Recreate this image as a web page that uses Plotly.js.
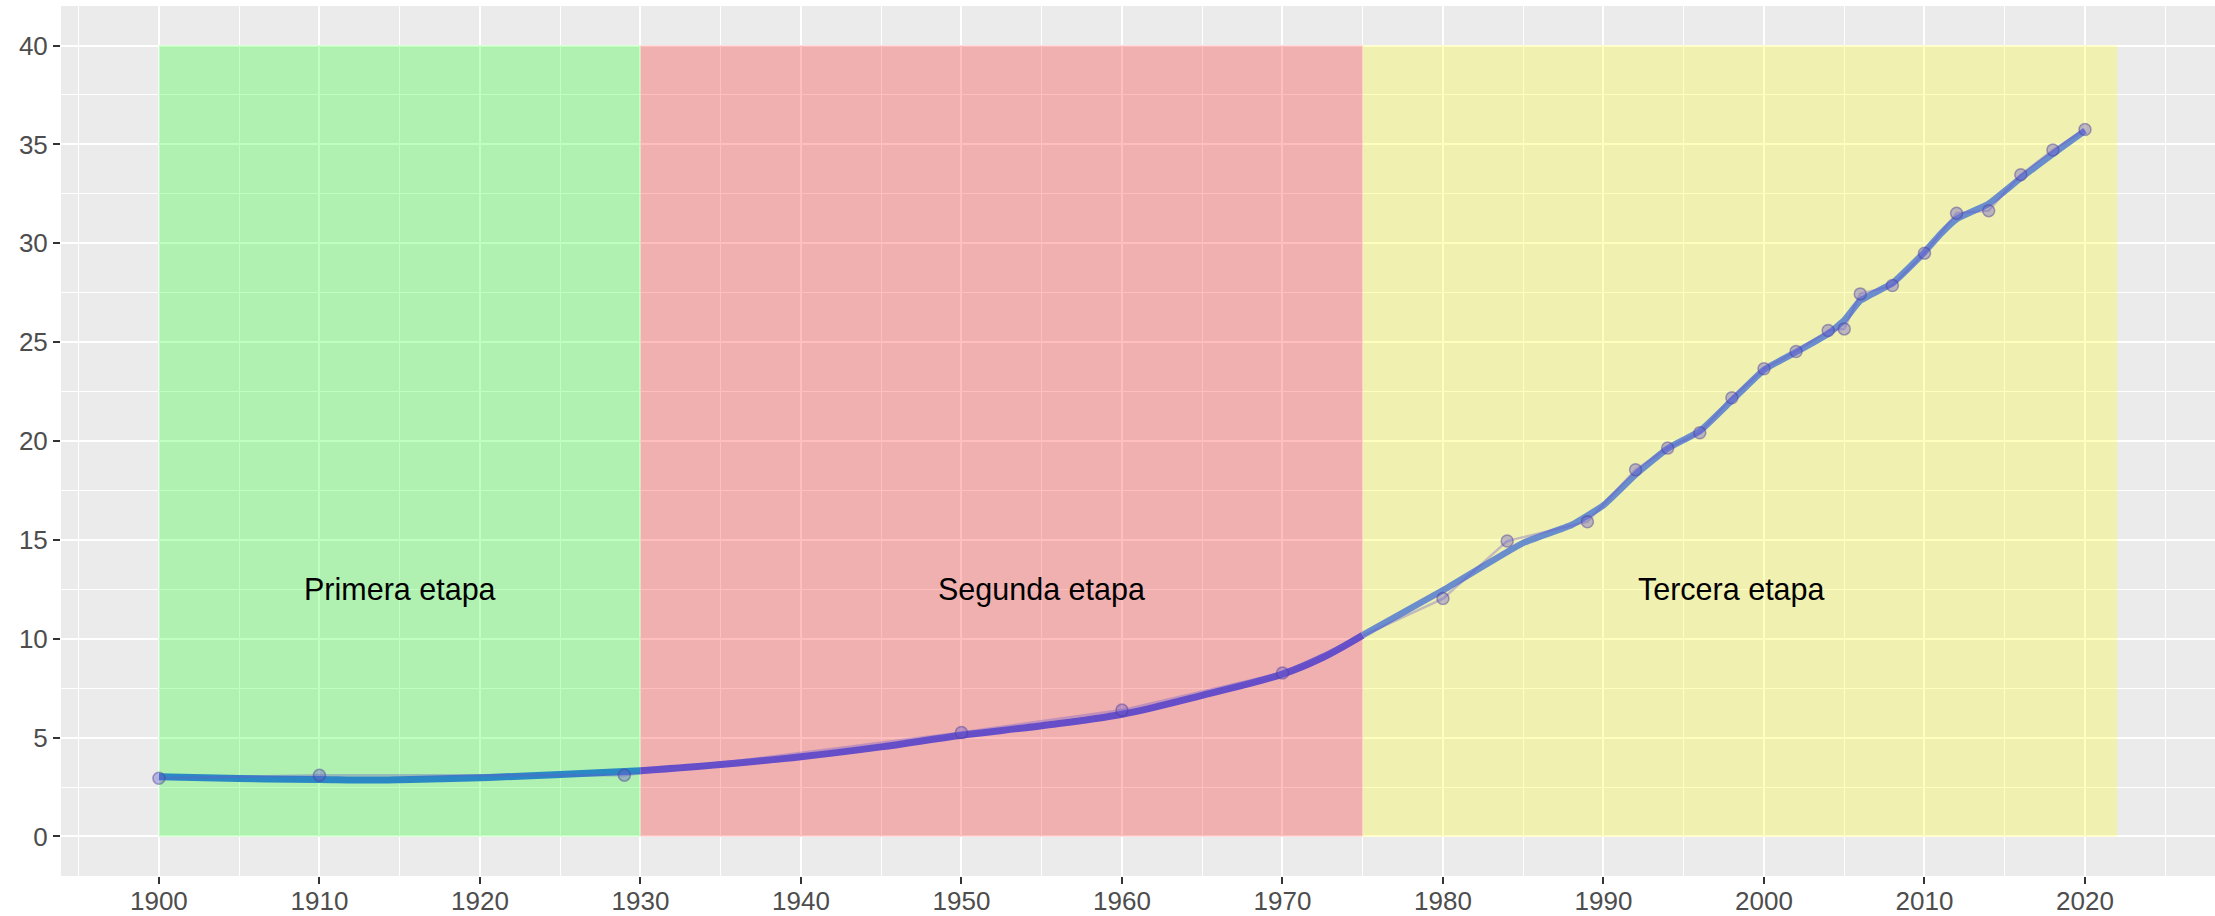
<!DOCTYPE html>
<html>
<head>
<meta charset="utf-8">
<script src="https://cdn.plot.ly/plotly-3.0.1.min.js"></script>
<style>
html, body { margin: 0; padding: 0; background: #ffffff; }
#chart { width: 2215px; height: 916px; }
</style>
</head>
<body>
<div id="chart"></div>
<script>
// Observed data (points + thin line)
const years = [1900,1910,1929,1950,1960,1970,1980,1984,1989,1992,1994,1996,1998,2000,2002,2004,2005,2006,2008,2010,2012,2014,2016,2018,2020];
const values = [2.94,3.10,3.10,5.26,6.39,8.27,12.03,14.94,15.92,18.55,19.64,20.42,22.19,23.65,24.53,25.59,25.67,27.44,27.86,29.50,31.52,31.65,33.47,34.72,35.75];

// Trend line, per stage
const trend1Years = [1900,1905,1910,1913,1915,1920,1925,1930];
const trend1Values = [3.02,2.93,2.88,2.85,2.87,2.97,3.13,3.32];
const trend2Years = [1930,1935,1940,1945,1950,1955,1960,1965,1970,1972.5,1975];
const trend2Values = [3.32,3.64,4.03,4.53,5.12,5.60,6.18,7.14,8.21,9.05,10.18];
const trend3Years = [1975,1980,1985,1988,1990,1992,1994,1996,1998,2000,2002,2003,2004,2005,2006,2008,2010,2011,2012,2014,2016,2018,2020];
const trend3Values = [10.18,12.45,14.85,15.75,16.75,18.30,19.62,20.50,22.05,23.60,24.50,24.95,25.42,26.10,27.10,27.98,29.55,30.47,31.23,32.00,33.30,34.52,35.70];

// Stages (background bands)
const stageStart = [1900, 1930, 1975];
const stageEnd = [1930, 1975, 2022];
const stageBottom = 0;
const stageTop = 40;
const stageFill = ['rgba(0,255,0,0.25)', 'rgba(255,0,0,0.25)', 'rgba(255,255,0,0.25)'];
const stageLabels = ['Primera etapa', 'Segunda etapa', 'Tercera etapa'];
const labelX = [1915, 1955, 1998];
const labelY = [12.5, 12.5, 12.5];

const trendColors = ['#2A88C4', '#664EC8', '#6A8ECC'];

// Axis ticks
const xTicks = [1900,1910,1920,1930,1940,1950,1960,1970,1980,1990,2000,2010,2020];
const yTicks = [0,5,10,15,20,25,30,35,40];

const FONT = 'Liberation Sans, Arial, Helvetica, sans-serif';

const traces = [
  { x: trend1Years, y: trend1Values, type: 'scatter', mode: 'lines',
    line: { color: trendColors[0], width: 7, shape: 'spline', smoothing: 1 }, hoverinfo: 'skip' },
  { x: trend2Years, y: trend2Values, type: 'scatter', mode: 'lines',
    line: { color: trendColors[1], width: 7, shape: 'spline', smoothing: 1 }, hoverinfo: 'skip' },
  { x: trend3Years, y: trend3Values, type: 'scatter', mode: 'lines',
    line: { color: trendColors[2], width: 6.5, shape: 'spline', smoothing: 0.4 }, hoverinfo: 'skip' },
  { x: years, y: values, type: 'scatter', mode: 'lines',
    line: { color: 'rgba(106,90,205,0.35)', width: 2.5 }, hoverinfo: 'skip' },
  { x: years, y: values, type: 'scatter', mode: 'markers',
    marker: { size: 12, color: 'rgba(106,90,205,0.4)', line: { color: 'rgba(70,60,150,0.45)', width: 1.5 } } }
];

const shapes = stageStart.map((s, i) => ({
  type: 'rect', xref: 'x', yref: 'y', layer: 'between',
  x0: s, x1: stageEnd[i], y0: stageBottom, y1: stageTop,
  fillcolor: stageFill[i], line: { width: 0 }
}));

const annotations = stageLabels.map((t, i) => ({
  x: labelX[i], y: labelY[i], xref: 'x', yref: 'y', text: t, showarrow: false,
  xanchor: 'center', yanchor: 'middle',
  font: { family: FONT, size: 30.5, color: '#000000' }
}));

const axisCommon = {
  ticks: 'outside', ticklen: 7, tickwidth: 2, tickcolor: '#333333',
  tickfont: { family: FONT, size: 26, color: '#4D4D4D' },
  showgrid: true, gridcolor: '#FFFFFF', gridwidth: 2,
  zeroline: false, showline: false, fixedrange: true
};

const layout = {
  width: 2215, height: 916,
  margin: { l: 61, r: 0, t: 6, b: 40, pad: 0 },
  paper_bgcolor: '#FFFFFF', plot_bgcolor: '#EBEBEB',
  showlegend: false,
  xaxis: Object.assign({}, axisCommon, {
    range: [1893.9, 2028.1], tickmode: 'array', tickvals: xTicks, ticktext: xTicks.map(String),
    ticklabelstandoff: -5,
    minor: { tick0: 1895, dtick: 10, showgrid: true, gridcolor: '#FFFFFF', gridwidth: 1, ticks: '' }
  }),
  yaxis: Object.assign({}, axisCommon, {
    range: [-2, 42], tickmode: 'array', tickvals: yTicks, ticktext: yTicks.map(String),
    minor: { tick0: 2.5, dtick: 5, showgrid: true, gridcolor: '#FFFFFF', gridwidth: 1, ticks: '' }
  }),
  shapes: shapes,
  annotations: annotations
};

Plotly.newPlot('chart', traces, layout, { displayModeBar: false, staticPlot: true });
</script>
</body>
</html>
